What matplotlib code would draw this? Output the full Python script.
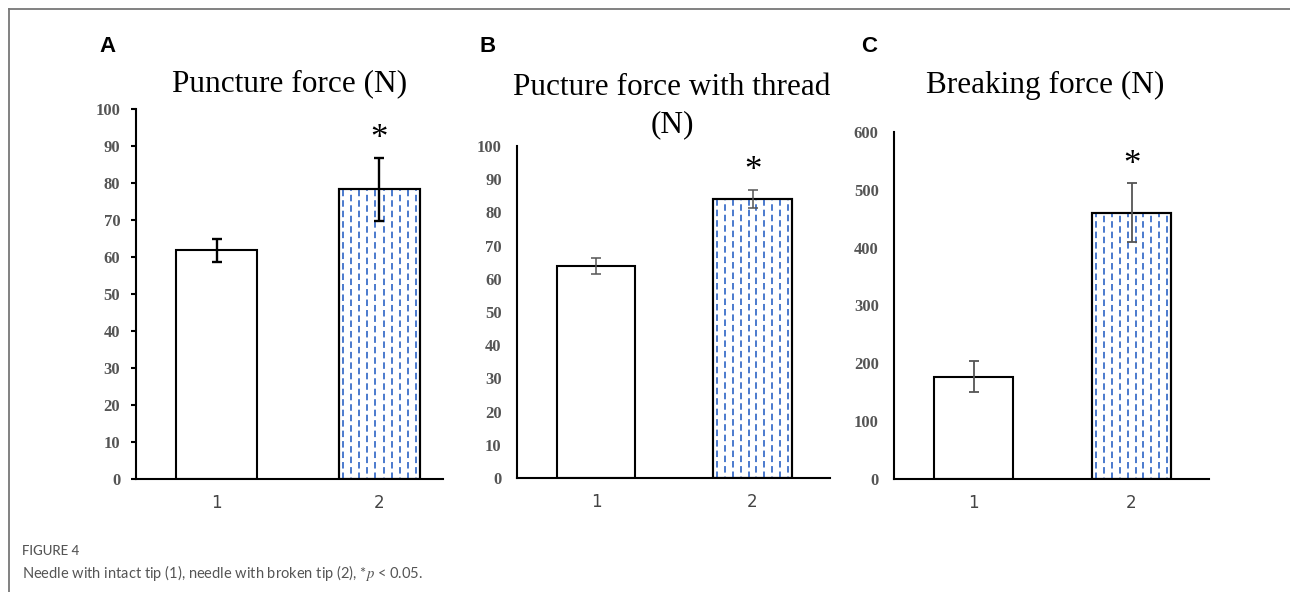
import matplotlib.pyplot as plt
import numpy as np
from matplotlib.lines import Line2D

plt.rcParams['mathtext.fontset'] = 'stix'

groups = ['1', '2']
puncture = [61.8, 78.3]
puncture_err = [3.2, 8.5]
thread = [63.8, 84.0]
thread_err = [2.5, 2.8]
breaking = [177, 460]
breaking_err = [26.5, 51]

titles = ['Puncture force (N)', 'Pucture force with thread\n(N)', 'Breaking force (N)']
letters = ['A', 'B', 'C']
ymax = [100, 100, 600]
ystep = [10, 10, 100]

W, H = 1290, 592
fig = plt.figure(figsize=(W / 100, H / 100), dpi=100)


def px_axes(x0, x1, ytop, ybot):
    return fig.add_axes([x0 / W, 1 - ybot / H, (x1 - x0) / W, (ybot - ytop) / H])


axA = px_axes(136, 443, 109, 479)
axB = px_axes(517, 830, 146, 478)
axC = px_axes(894, 1209, 132, 479)
axes = [axA, axB, axC]
xlims = [(0.505, 2.39), (0.495, 2.495), (0.497, 2.49)]
err_colors = ['black', '#555555', '#555555']
err_lw = [1.7, 1.1, 1.3]
tick_len = [3.6, 0, 0]

datasets = [(puncture, puncture_err), (thread, thread_err), (breaking, breaking_err)]
xpos = np.arange(1, len(groups) + 1)

for i, ax in enumerate(axes):
    vals, errs = datasets[i]
    bars = ax.bar(xpos, vals, width=0.5, color='white', edgecolor='black',
                  linewidth=1.5, zorder=2)
    # dashed blue vertical pattern in the second bar
    b = bars[1]
    n = 10
    xs = b.get_x() + b.get_width() * (np.arange(n) + 0.5) / n
    for k, xx in enumerate(xs):
        ln = ax.vlines(xx, 0, b.get_height(), colors='#3d6fc9', linewidth=1.3,
                       linestyles=[(2.8 * (k % 2), (3.6, 2.2))], zorder=2.5)
        ln.set_clip_path(b)
    ax.bar(xpos[1], vals[1], width=0.5, color='none', edgecolor='black',
           linewidth=1.5, zorder=3)
    ax.errorbar(xpos, vals, yerr=errs, fmt='none', ecolor=err_colors[i],
                elinewidth=err_lw[i], capsize=3.8, capthick=err_lw[i], zorder=4)
    ax.annotate('*', (xpos[1], vals[1] + errs[1]), xytext=(0, 13),
                textcoords='offset points', ha='center', va='center',
                fontsize=25, family='Liberation Serif')

    ax.set_xlim(*xlims[i])
    ax.set_ylim(0, ymax[i])
    ax.set_yticks(np.arange(0, ymax[i] + 1, ystep[i]))
    ax.set_xticks(xpos)
    ax.set_xticklabels(groups)
    for s in ['top', 'right']:
        ax.spines[s].set_visible(False)
    for s in ['left', 'bottom']:
        ax.spines[s].set_linewidth(1.5)
    ax.tick_params(axis='y', length=tick_len[i], width=1.5, direction='out',
                   pad=11 - tick_len[i] * 0.9)
    ax.tick_params(axis='x', length=0, pad=11)
    for t in ax.get_yticklabels():
        t.set_fontfamily('Liberation Serif')
        t.set_fontweight('bold')
        t.set_fontsize(12)
        t.set_color('#555555')
    for t in ax.get_xticklabels():
        t.set_fontfamily('DejaVu Sans')
        t.set_fontsize(12)
        t.set_color('#444444')

# panel titles
fig.text(290 / W, 1 - 84 / H, titles[0], ha='center', va='center',
         fontsize=22.5, family='Liberation Serif')
fig.text(672 / W, 1 - 106 / H, titles[1], ha='center', va='center',
         fontsize=22.5, family='Liberation Serif', linespacing=1.35)
fig.text(1045 / W, 1 - 85 / H, titles[2], ha='center', va='center',
         fontsize=22.5, family='Liberation Serif')

for lx, txt in zip([107, 488, 869], letters):
    fig.text(lx / W, 1 - 47 / H, txt, ha='center', va='center', fontsize=16,
             fontweight='bold', family='Liberation Sans')

# frame lines
fig.add_artist(Line2D([9 / W, 1], [1 - 9 / H, 1 - 9 / H], color='#777777', linewidth=1.3))
fig.add_artist(Line2D([9 / W, 9 / W], [1 - 9 / H, 0], color='#777777', linewidth=1.3))

fig.text(22 / W, 1 - 551 / H, 'FIGURE 4', ha='left', va='center', fontsize=9.5,
         family='Lato', fontweight='medium', color='#555555')
fig.text(22 / W, 1 - 573 / H,
         r'Needle with intact tip (1), needle with broken tip (2), *$p$ < 0.05.',
         ha='left', va='center', fontsize=10.5, family='Lato', color='#555555')

fig.savefig('out.png', dpi=100)
